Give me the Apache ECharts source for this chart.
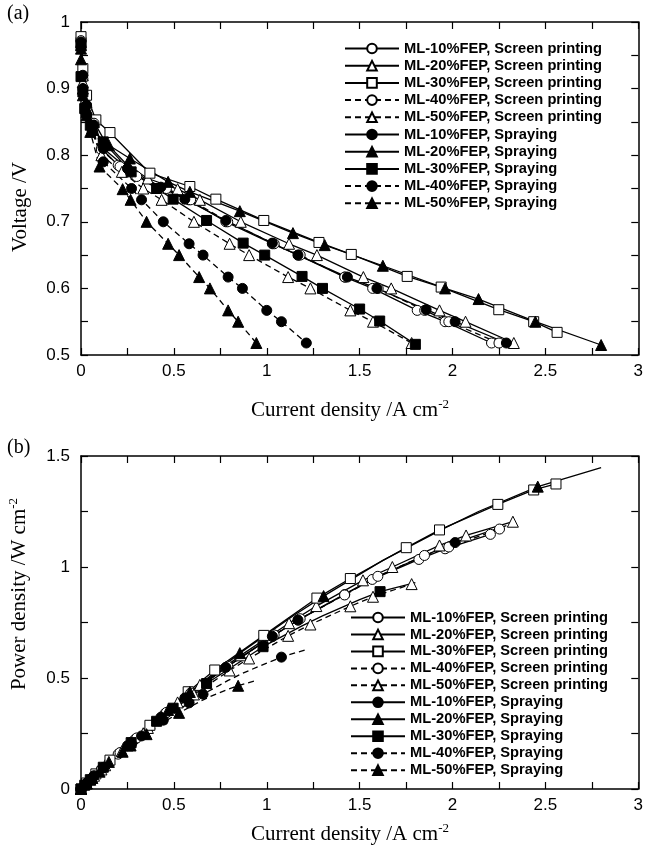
<!DOCTYPE html>
<html>
<head>
<meta charset="utf-8">
<script src="https://cdn.jsdelivr.net/npm/echarts@6/dist/echarts.min.js"></script>
<style>
html, body { margin: 0; padding: 0; background: #fff; }
#chart { width: 646px; height: 848px; }
</style>
</head>
<body>
<div id="chart"></div>
<script>
const seriesNames = [
  'ML-10%FEP, Screen printing',
  'ML-20%FEP, Screen printing',
  'ML-30%FEP, Screen printing',
  'ML-40%FEP, Screen printing',
  'ML-50%FEP, Screen printing',
  'ML-10%FEP, Spraying',
  'ML-20%FEP, Spraying',
  'ML-30%FEP, Spraying',
  'ML-40%FEP, Spraying',
  'ML-50%FEP, Spraying'
];

// (a) [current density A cm-2, voltage V]
const vSp10 = [[0,0.975],[0.01,0.92],[0.03,0.875],[0.075,0.852],[0.11,0.81],[0.2,0.785],[0.29,0.77],[0.45,0.75],[0.58,0.733],[0.78,0.7],[1.03,0.667],[1.17,0.65],[1.42,0.617],[1.57,0.6],[1.81,0.567],[1.96,0.55],[2.21,0.518]];
const vSp20 = [[0,0.97],[0.01,0.92],[0.03,0.88],[0.07,0.85],[0.13,0.82],[0.25,0.785],[0.36,0.765],[0.52,0.749],[0.64,0.733],[0.86,0.7],[1.12,0.667],[1.27,0.65],[1.52,0.617],[1.67,0.6],[1.93,0.567],[2.07,0.55],[2.33,0.518]];
const vSp30 = [[0,0.978],[0.01,0.93],[0.03,0.89],[0.08,0.853],[0.156,0.834],[0.371,0.773],[0.586,0.753],[0.726,0.734],[0.984,0.702],[1.281,0.669],[1.455,0.651],[1.756,0.618],[1.939,0.602],[2.249,0.568],[2.437,0.55],[2.563,0.534]];
const vSp40 = [[0,0.972],[0.01,0.915],[0.03,0.87],[0.07,0.848],[0.11,0.808],[0.21,0.783],[0.3,0.768],[0.46,0.75],[0.59,0.733],[0.79,0.7],[1.04,0.667],[1.18,0.65],[1.42,0.617],[1.6,0.6],[1.85,0.567],[1.98,0.55],[2.25,0.518]];
const vSp50 = [[0,0.965],[0.01,0.91],[0.03,0.865],[0.06,0.84],[0.11,0.8],[0.22,0.775],[0.335,0.75],[0.434,0.733],[0.608,0.7],[0.8,0.667],[0.905,0.65],[1.115,0.617],[1.235,0.6],[1.45,0.567],[1.572,0.55],[1.78,0.518]];
const vSpray10 = [[0,0.97],[0.01,0.92],[0.03,0.875],[0.07,0.845],[0.12,0.81],[0.25,0.78],[0.43,0.752],[0.559,0.734],[0.78,0.702],[1.03,0.668],[1.168,0.65],[1.434,0.617],[1.593,0.6],[1.858,0.568],[2.014,0.55],[2.29,0.518]];
const vSpray20 = [[0,0.944],[0.01,0.9],[0.03,0.87],[0.06,0.838],[0.15,0.815],[0.263,0.795],[0.469,0.76],[0.586,0.745],[0.855,0.716],[1.141,0.683],[1.312,0.665],[1.625,0.634],[1.96,0.6],[2.14,0.584],[2.446,0.55],[2.8,0.515]];
const vSpray30 = [[0,0.965],[0,0.918],[0.01,0.895],[0.02,0.87],[0.05,0.845],[0.12,0.82],[0.27,0.775],[0.407,0.75],[0.496,0.734],[0.676,0.702],[0.873,0.668],[0.989,0.65],[1.19,0.618],[1.3,0.6],[1.5,0.569],[1.608,0.551],[1.8,0.516]];
const vSpray40 = [[0,0.965],[0.01,0.9],[0.03,0.86],[0.06,0.835],[0.12,0.79],[0.272,0.75],[0.326,0.733],[0.443,0.7],[0.582,0.667],[0.657,0.65],[0.792,0.617],[0.869,0.6],[1.0,0.567],[1.079,0.55],[1.213,0.518]];
const vSpray50 = [[0,0.96],[0.01,0.89],[0.03,0.86],[0.05,0.835],[0.1,0.783],[0.224,0.749],[0.267,0.733],[0.353,0.7],[0.469,0.667],[0.528,0.65],[0.636,0.617],[0.694,0.6],[0.792,0.567],[0.846,0.55],[0.944,0.518]];

// (b) [current density A cm-2, power density W cm-2], points that carry a marker
const pSp10 = [[0,0],[0.03,0.026],[0.075,0.064],[0.11,0.089],[0.2,0.157],[0.29,0.223],[0.45,0.338],[0.58,0.425],[0.78,0.546],[1.03,0.687],[1.17,0.761],[1.42,0.876],[1.568,0.944],[1.819,1.034],[1.96,1.082],[2.204,1.147]];
const pSp20 = [[0,0],[0.03,0.026],[0.07,0.06],[0.13,0.107],[0.25,0.196],[0.36,0.275],[0.52,0.39],[0.64,0.469],[0.86,0.602],[1.12,0.747],[1.267,0.824],[1.518,0.94],[1.676,1.0],[1.93,1.097],[2.073,1.142],[2.325,1.204]];
const pSp30 = [[0,0],[0.03,0.027],[0.08,0.068],[0.156,0.13],[0.371,0.287],[0.577,0.438],[0.72,0.536],[0.984,0.692],[1.27,0.86],[1.45,0.948],[1.751,1.087],[1.93,1.167],[2.244,1.282],[2.437,1.347],[2.557,1.374]];
const pSp40 = [[0,0],[0.03,0.026],[0.07,0.059],[0.11,0.089],[0.21,0.164],[0.3,0.23],[0.46,0.345],[0.59,0.432],[0.79,0.553],[1.04,0.694],[1.18,0.767],[1.419,0.874],[1.598,0.958],[1.849,1.052],[1.98,1.09],[2.253,1.171]];
const pSp50 = [[0,0],[0.03,0.026],[0.06,0.05],[0.11,0.088],[0.22,0.171],[0.335,0.251],[0.434,0.318],[0.608,0.426],[0.8,0.534],[0.905,0.588],[1.115,0.69],[1.235,0.741],[1.45,0.823],[1.572,0.866],[1.78,0.923]];
const pSpray10 = [[0,0],[0.03,0.026],[0.07,0.059],[0.12,0.097],[0.25,0.195],[0.43,0.323],[0.559,0.41],[0.78,0.548],[1.03,0.688],[1.168,0.761],[2.014,1.11]];
const pSpray20 = [[0,0],[0.03,0.026],[0.06,0.05],[0.15,0.122],[0.263,0.209],[0.469,0.356],[0.586,0.437],[0.855,0.612],[1.306,0.869],[2.459,1.362]];
const pSpray30 = [[0,0],[0.02,0.017],[0.05,0.042],[0.12,0.098],[0.27,0.209],[0.407,0.305],[0.496,0.364],[0.676,0.475],[0.98,0.641],[1.61,0.889]];
const pSpray40 = [[0,0],[0.03,0.026],[0.06,0.05],[0.12,0.095],[0.272,0.204],[0.326,0.239],[0.443,0.31],[0.582,0.388],[0.657,0.427],[1.079,0.594]];
const pSpray50 = [[0,0],[0.03,0.026],[0.05,0.042],[0.1,0.078],[0.224,0.168],[0.267,0.196],[0.353,0.247],[0.528,0.343],[0.846,0.465]];

// (b) points on the curves that show no marker in the figure
const pSpray10Line = [[1.434,0.885],[1.593,0.956],[1.858,1.055],[2.29,1.186]];
const pSpray20Line = [[1.141,0.779],[1.625,1.03],[1.96,1.176],[2.14,1.25],[2.8,1.448]];
const pSpray30Line = [[1.19,0.735],[1.3,0.78],[1.5,0.853],[1.8,0.93]];
const pSpray40Line = [[0.792,0.489],[0.869,0.521],[1.0,0.567],[1.213,0.628]];
const pSpray50Line = [[0.469,0.313],[0.636,0.392],[0.694,0.416],[0.792,0.449],[0.944,0.489]];

const vData = [vSp10, vSp20, vSp30, vSp40, vSp50, vSpray10, vSpray20, vSpray30, vSpray40, vSpray50];
const pData = [pSp10, pSp20, pSp30, pSp40, pSp50, pSpray10, pSpray20, pSpray30, pSpray40, pSpray50];
const pLine = [[], [], [], [], [], pSpray10Line, pSpray20Line, pSpray30Line, pSpray40Line, pSpray50Line];

const markers = ['circle', 'triangle', 'rect', 'circle', 'triangle', 'circle', 'triangle', 'rect', 'circle', 'triangle'];
const isOpen = (i) => i < 5;
const isDashed = (i) => i % 5 >= 3;

const sans = 'Liberation Sans, Arial, sans-serif';
const serif = 'Liberation Serif, Times New Roman, serif';

const makeSeries = (i, data, axis) => ({
  name: seriesNames[i],
  type: 'line',
  xAxisIndex: axis,
  yAxisIndex: axis,
  data,
  symbol: markers[i],
  symbolSize: markers[i] === 'triangle' ? 11 : 10,
  showAllSymbol: true,
  itemStyle: { color: isOpen(i) ? '#fff' : '#000', borderColor: '#000', borderWidth: 1 },
  lineStyle: { color: '#000', width: 1.3, type: isDashed(i) ? [6, 4] : 'solid' },
  emphasis: { disabled: true },
  animation: false
});

const bottomData = (i) => pData[i]
  .concat(pLine[i].map((p) => ({ value: p, symbol: 'none' })))
  .sort((a, b) => (a.value || a)[0] - (b.value || b)[0]);

const fmtX = (v) => (Math.abs(v * 2 - Math.round(v * 2)) < 1e-6 ? String(+v.toFixed(1)) : '');
const fmtY1 = (v) => (Math.abs(v * 10 - Math.round(v * 10)) < 1e-6 ? String(+v.toFixed(1)) : '');
const fmtY2 = (v) => (Math.abs(v * 2 - Math.round(v * 2)) < 1e-6 ? String(+v.toFixed(1)) : '');

const axisCommon = (grid, pos, min, max, interval, fmt) => ({
  type: 'value',
  gridIndex: grid,
  position: pos,
  min, max, interval,
  axisLine: { show: true, onZero: false, lineStyle: { color: '#000', width: 1.5 } },
  axisTick: { show: true, inside: true, length: 7, lineStyle: { color: '#000', width: 1.2 } },
  axisLabel: {
    show: pos === 'bottom' || pos === 'left',
    formatter: fmt, color: '#000', fontFamily: sans, fontSize: 17, margin: pos === 'left' ? 11 : 8
  },
  splitLine: { show: false }
});

const legendCommon = (left, top, gap) => ({
  left, top,
  padding: 0,
  orient: 'vertical',
  itemWidth: 54,
  itemHeight: 12,
  itemGap: gap,
  selectedMode: false,
  data: seriesNames,
  textStyle: { fontFamily: sans, fontWeight: 'bold', fontSize: 14.7, color: '#000' }
});

const supRich = { sup: { fontFamily: serif, fontSize: 13, verticalAlign: 'top', padding: [0, 0, 10, 0] } };

const options = {
  backgroundColor: '#fff',
  animation: false,
  grid: [
    { left: 81, top: 22, width: 558, height: 333 },
    { left: 81, top: 456, width: 558, height: 333 }
  ],
  xAxis: [
    axisCommon(0, 'bottom', 0, 3, 0.25, fmtX),
    axisCommon(0, 'top', 0, 3, 0.25, fmtX),
    axisCommon(1, 'bottom', 0, 3, 0.25, fmtX),
    axisCommon(1, 'top', 0, 3, 0.25, fmtX)
  ],
  yAxis: [
    axisCommon(0, 'left', 0.5, 1, 0.05, fmtY1),
    axisCommon(0, 'right', 0.5, 1, 0.05, fmtY1),
    axisCommon(1, 'left', 0, 1.5, 0.25, fmtY2),
    axisCommon(1, 'right', 0, 1.5, 0.25, fmtY2)
  ],
  legend: [
    legendCommon(344, 41, 2.2),
    legendCommon(350, 610, 1.96)
  ],
  graphic: [
    { type: 'text', x: 7, y: 4, style: { text: '(a)', font: '20px ' + serif, fill: '#000' } },
    { type: 'text', x: 7, y: 438, style: { text: '(b)', font: '20px ' + serif, fill: '#000' } },
    { type: 'text', x: 20, y: 207, rotation: Math.PI / 2,
      style: { text: 'Voltage /V', font: '21px ' + serif, fill: '#000', align: 'center', verticalAlign: 'middle' } },
    { type: 'text', x: 19, y: 594, rotation: Math.PI / 2,
      style: { text: 'Power density /W cm{sup|-2}', rich: supRich, font: '21px ' + serif, fill: '#000', align: 'center', verticalAlign: 'middle' } },
    { type: 'text', x: 350, y: 410,
      style: { text: 'Current density /A cm{sup|-2}', rich: supRich, font: '21px ' + serif, fill: '#000', align: 'center', verticalAlign: 'middle' } },
    { type: 'text', x: 350, y: 834,
      style: { text: 'Current density /A cm{sup|-2}', rich: supRich, font: '21px ' + serif, fill: '#000', align: 'center', verticalAlign: 'middle' } }
  ],
  series: [
    ...vData.map((d, i) => makeSeries(i, d, 0)),
    ...pData.map((d, i) => makeSeries(i, bottomData(i), 2))
  ]
};

const chart = echarts.init(document.getElementById('chart'), null, { renderer: 'canvas' });
chart.setOption(options);
</script>
</body>
</html>
